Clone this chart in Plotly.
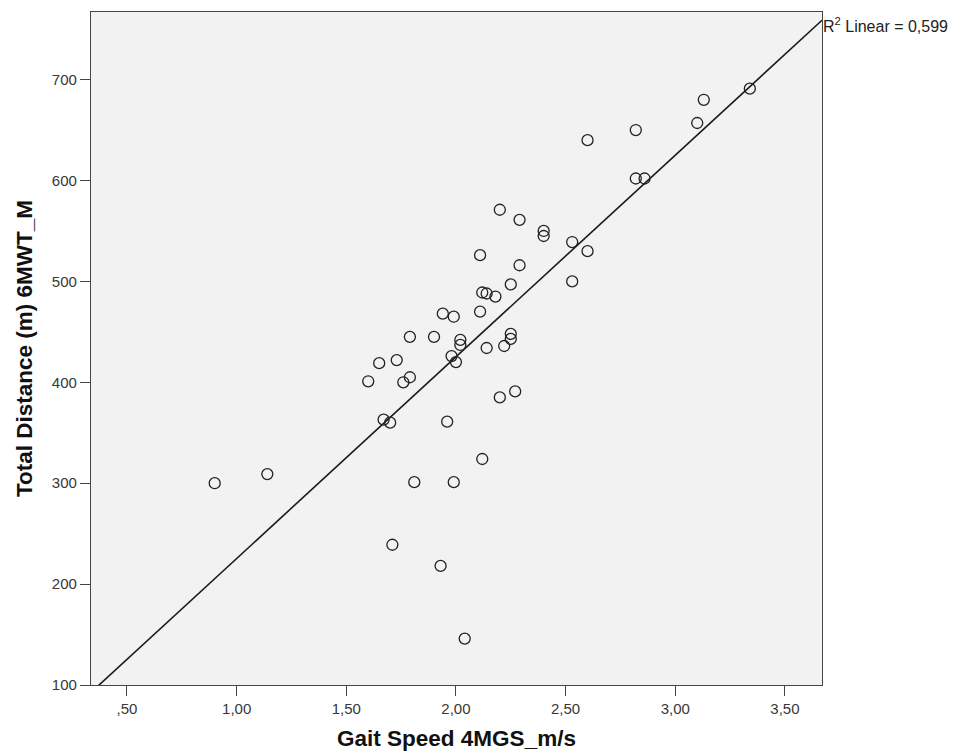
import numpy as np
import plotly.graph_objects as go

gait_speed = [0.90, 1.14, 1.60, 1.65, 1.73, 1.76, 1.79, 1.79, 1.67, 1.70,
              1.90, 1.94, 1.99, 2.02, 2.02, 1.98, 2.00, 1.96, 2.11, 2.12,
              2.14, 2.18, 2.11, 2.14, 2.22, 2.25, 2.25, 2.25, 2.29, 2.20,
              2.27, 2.53, 2.12, 1.81, 1.99, 1.71, 1.93, 2.04, 2.60, 2.82,
              3.13, 3.10, 3.34, 2.82, 2.86, 2.53, 2.60, 2.40, 2.40, 2.20,
              2.29]
distance = [300, 309, 401, 419, 422, 400, 405, 445, 363, 360,
            445, 468, 465, 442, 437, 426, 420, 361, 470, 489,
            488, 485, 526, 434, 436, 448, 443, 497, 516, 385,
            391, 500, 324, 301, 301, 239, 218, 146, 640, 650,
            680, 657, 691, 602, 602, 539, 530, 550, 545, 571,
            561]

x_tickvals = [0.5, 1.0, 1.5, 2.0, 2.5, 3.0, 3.5]
x_ticktext = [",50", "1,00", "1,50", "2,00", "2,50", "3,00", "3,50"]
y_tickvals = [100, 200, 300, 400, 500, 600, 700]
x_range = [0.336, 3.669]
y_range = [100, 767]
r2_label = "R<sup>2</sup> Linear = 0,599"

slope, intercept = np.polyfit(gait_speed, distance, 1)
line_x = np.array(x_range)
line_y = intercept + slope * line_x

fig = go.Figure()
fig.add_trace(go.Scatter(
    x=line_x, y=line_y, mode="lines",
    line=dict(color="#1a1a1a", width=1.6), hoverinfo="skip"))
fig.add_trace(go.Scatter(
    x=gait_speed, y=distance, mode="markers",
    marker=dict(symbol="circle-open", size=11, color="#222222",
                line=dict(width=1.3, color="#222222")), cliponaxis=False))

fig.add_annotation(x=1, y=line_y[1], xref="paper", yref="y", text=r2_label,
                   showarrow=False, xanchor="left", yanchor="middle",
                   xshift=-1, yshift=-5,
                   font=dict(family="Liberation Sans, Arial", size=16, color="#222"))

axis_common = dict(showline=True, mirror=True, linecolor="#444444", linewidth=1.3,
                   ticks="outside", ticklen=10, tickcolor="#444444", tickwidth=1,
                   showgrid=False, zeroline=False,
                   tickfont=dict(family="Liberation Sans, Arial", size=15, color="#383838"))

title_font = dict(family="Liberation Sans, Arial", size=22.5, color="#111")

fig.update_layout(
    width=963, height=746,
    margin=dict(l=83, r=149, t=4, b=69),
    paper_bgcolor="white", plot_bgcolor="#f2f2f2",
    showlegend=False,
    xaxis=dict(range=x_range, tickvals=x_tickvals, ticktext=x_ticktext,
               title=dict(text="<b>Gait Speed 4MGS_m/s</b>", standoff=14, font=title_font),
               **axis_common),
    yaxis=dict(range=y_range, tickvals=y_tickvals,
               title=dict(text="<b>Total Distance (m) 6MWT_M</b>", standoff=12, font=title_font),
               **axis_common),
)

fig.write_html("out.html")
